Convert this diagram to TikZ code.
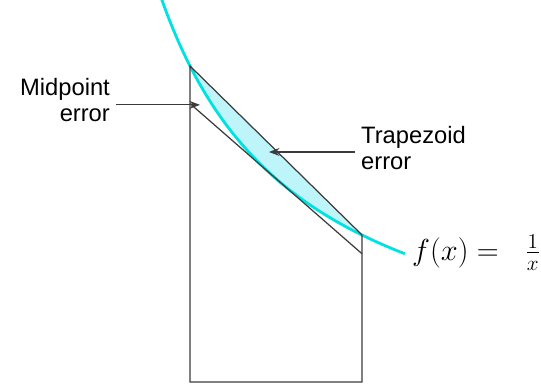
\documentclass[tikz,border=0pt]{standalone}
\usepackage{fontspec}
\newfontfamily\labelfont{Liberation Sans}
\usetikzlibrary{arrows.meta}
\definecolor{curvecyan}{RGB}{0,225,225}
\definecolor{fillcyan}{RGB}{190,245,250}
\definecolor{linegray}{RGB}{60,60,60}

\begin{document}
\begin{tikzpicture}[x=3.44cm, y=6.76cm,
    outline/.style={linegray, line width=0.7pt},
    fcurve/.style={curvecyan, line width=1.6pt},
    errlabel/.style={font=\labelfont\fontsize{13.5}{14.5}\selectfont},
    pointer/.style={linegray, line width=0.7pt, -{Stealth[length=6pt,width=4.5pt]}}
]

% Frame
\clip (-0.1047,0.0533) rectangle (3.0407,1.1953);

% Trapezoid error region
\fill[fillcyan] (1,1) -- (2,0.5) -- plot[domain=2:1, samples=40] (\x,{1/\x}) -- cycle;

% Curve
\draw[fcurve] plot[domain=0.835:2.25, samples=80] (\x,{1/\x});

% Trapezoid and midpoint tangent
\draw[outline] (2,0.5) -- (1,1) -- (1,0.0651) -- (2,0.0651) -- cycle;
\draw[outline] (1,{8/9}) -- (2,{4/9});

% Labels
\node[errlabel, anchor=east, align=right] (midlbl) at (0.570,0.899) {Midpoint\\error};
\node[errlabel, anchor=west, align=left] (traplbl) at (1.959,0.757) {Trapezoid\\error};
\node[anchor=base west, inner sep=0pt, font=\fontsize{18}{20}\selectfont] (flbl) at (2.29,0.426) {$f(x)=\hspace{10pt}\frac{1}{x}$};

% Pointers
\coordinate (midtip) at (1.058,0.885);
\coordinate (traptip) at (1.459,0.7456);
\draw[pointer] (midlbl.east |- midtip) -- (midtip);
\draw[pointer] (traplbl.west |- traptip) -- (traptip);

\end{tikzpicture}
\end{document}
